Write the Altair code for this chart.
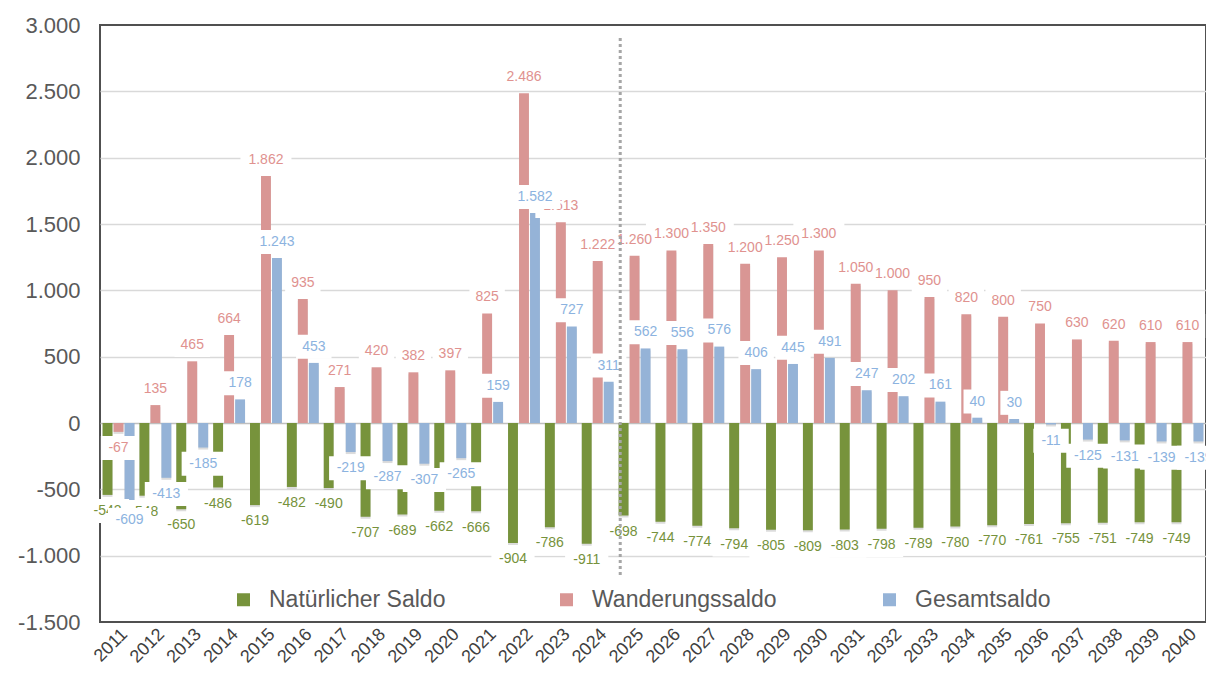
import altair as alt
import pandas as pd

# ---- data ----
years = [str(y) for y in range(2011, 2041)]
series = ["Natürlicher Saldo", "Wanderungssaldo", "Gesamtsaldo"]

natural = [-542, -548, -650, -486, -619, -482, -490, -707, -689, -662,
           -666, -904, -786, -911, -698, -744, -774, -794, -805, -809,
           -803, -798, -789, -780, -770, -761, -755, -751, -749, -749]
migration = [-67, 135, 465, 664, 1862, 935, 271, 420, 382, 397,
             825, 2486, 1513, 1222, 1260, 1300, 1350, 1200, 1250, 1300,
             1050, 1000, 950, 820, 800, 750, 630, 620, 610, 610]
total = [-609, -413, -185, 178, 1243, 453, -219, -287, -307, -265,
         159, 1582, 727, 311, 562, 556, 576, 406, 445, 491,
         247, 202, 161, 40, 30, -11, -125, -131, -139, -139]

forecast_start = ["2025"]
y_ticks = [-1500, -1000, -500, 0, 500, 1000, 1500, 2000, 2500, 3000]

# ---- styles ----
bar_colors = ["#77933C", "#D99694", "#95B3D7"]
label_colors = ["#76923C", "#E0928F", "#8CB3E0"]
FONT = "Liberation Sans"

rows = []
for name, vals in zip(series, [natural, migration, total]):
    for yr, v in zip(years, vals):
        rows.append({"Jahr": yr, "Reihe": name, "Wert": v})
df = pd.DataFrame(rows)

fmt = "replace(replace(format(datum.Wert, ','), ',', '.'), '\u2212', '-')"

x_enc = alt.X(
    "Jahr:N", sort=years, title=None,
    scale=alt.Scale(domain=years, paddingInner=0.135, paddingOuter=0.07),
    axis=alt.Axis(labelAngle=-45, labelFont=FONT, labelFontSize=18,
                  labelColor="#404040", ticks=False, domain=False,
                  labelPadding=3, grid=False),
)
xo_enc = alt.XOffset("Reihe:N", scale=alt.Scale(domain=series, paddingInner=0.1))
y_scale = alt.Scale(domain=[-1500, 3000], nice=False, zero=False)
y_enc = alt.Y(
    "Wert:Q", title=None, scale=y_scale,
    axis=alt.Axis(values=y_ticks, grid=True, gridWidth=1.5,
                  gridColor=alt.condition("datum.value === 0", alt.value("#BFBFBF"),
                                          alt.value("#D9D9D9")),
                  gridOpacity=alt.condition("datum.value === 3000 || datum.value === -1500",
                                            alt.value(0), alt.value(1)),
                  domain=False, ticks=False, labelFont=FONT, labelFontSize=22,
                  labelColor="#595959", labelPadding=20,
                  labelExpr="replace(replace(format(datum.value, ','), ',', '.'), '\u2212', '-')"),
)

base = alt.Chart(df).transform_calculate(
    label=fmt,
    ly="datum.Wert >= 0 ? datum.Wert + 122 : datum.Wert - 122",
).transform_calculate(
    hw="length(datum.label) * 3.9 + 6",
).transform_calculate(
    box="'M' + (-datum.hw) + ',-12H' + datum.hw + 'V12H' + (-datum.hw) + 'Z'",
)

shadow = base.mark_bar(color="#9A9A9A", opacity=0.35, xOffset=3, yOffset=2).encode(
    x=x_enc, xOffset=xo_enc, y=y_enc, y2=alt.datum(0)
)

bars = base.mark_bar().encode(
    x=x_enc, xOffset=xo_enc, y=y_enc, y2=alt.datum(0),
    color=alt.Color(
        "Reihe:N", scale=alt.Scale(domain=series, range=bar_colors),
        legend=alt.Legend(title=None, orient="none", legendX=132, legendY=563,
                          direction="horizontal", columns=3, gridAlign="all",
                          columnPadding=101, symbolType="square", symbolSize=169,
                          symbolStrokeWidth=0, labelFont=FONT, labelFontSize=23,
                          labelColor="#595959", labelOffset=14, padding=0,
                          labelLimit=400),
    ),
)

label_layers = []
for name, col in zip(series, label_colors):
    sub = base.transform_filter(alt.datum.Reihe == name)
    boxes = sub.mark_point(filled=True, color="white", opacity=1, size=4, strokeWidth=0).encode(
        x=x_enc, xOffset=xo_enc,
        y=alt.Y("ly:Q", scale=y_scale),
        shape=alt.Shape("box:N", scale=None, legend=None),
    )
    texts = sub.mark_text(font=FONT, fontSize=14, baseline="middle", align="center").encode(
        x=x_enc, xOffset=xo_enc,
        y=alt.Y("ly:Q", scale=y_scale),
        text="label:N",
        color=alt.value(col),
    )
    label_layers += [boxes, texts]

rule = alt.Chart(pd.DataFrame({"Jahr": forecast_start})).mark_rule(
    color="#A6A6A6", strokeWidth=3, strokeDash=[3, 3]
).encode(
    x=alt.X("Jahr:N", bandPosition=0.05, sort=years, title=None),
    y=alt.value(13), y2=alt.value(550),
)

chart = alt.layer(shadow, bars, *label_layers, rule).properties(
    width=1106, height=597,
    padding={"left": 92, "top": 17, "right": 0, "bottom": 43},
    autosize=alt.AutoSizeParams(type="none"),
    view=alt.ViewBackground(stroke="#505050", strokeWidth=2),
).configure(
    font=FONT
).configure_view(
    stroke="#505050", strokeWidth=2
)

chart.save("out.html", embed_options={"renderer": "svg", "actions": False})
